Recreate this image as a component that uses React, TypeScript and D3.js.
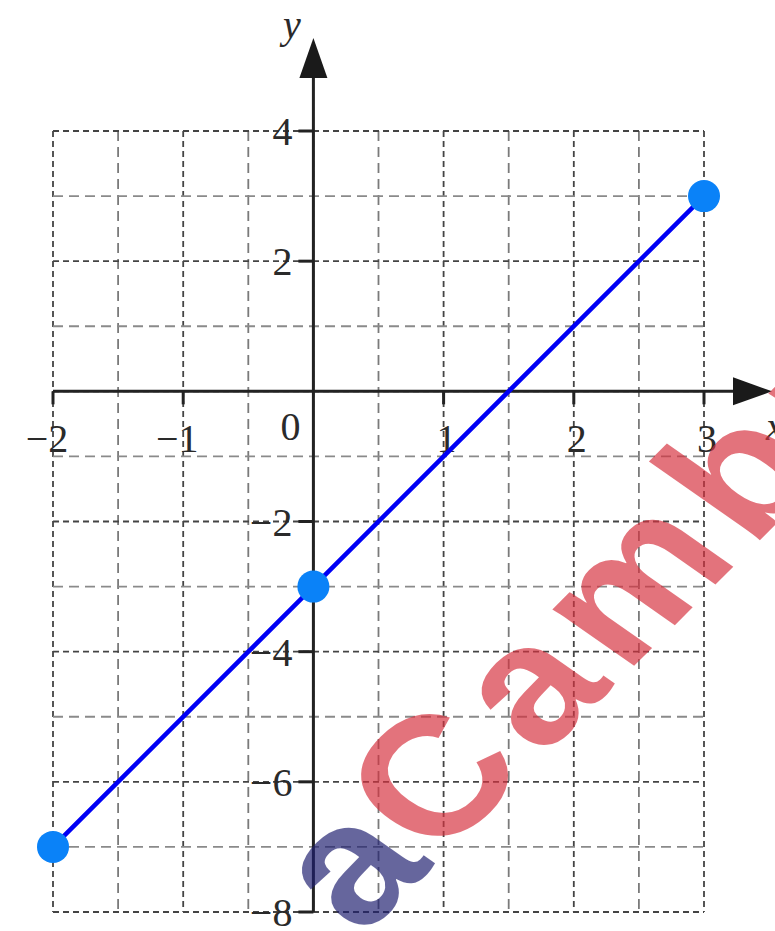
import React from "react";
import * as d3 from "d3";

// Endpoints and the y-intercept of y = 2x − 3
const pointXs = [-2, 0, 3];
const pointYs = [-7, -3, 3];

// Axis ticks and their labels
const xTickValues = [-2, -1, 1, 2, 3];
const xTickLabels = ["−2", "−1", "1", "2", "3"];
const yTickValues = [4, 2, -2, -4, -6, -8];
const yTickLabels = ["4", "2", "−2", "−4", "−6", "−8"];

// Grid extents
const xDomain = [-2, 3];
const yDomain = [-8, 4];

const W = 775;
const H = 931;

export default function App() {
  const x = d3.scaleLinear().domain(xDomain).range([53, 704]);
  const y = d3.scaleLinear().domain(yDomain).range([912, 131]);

  const x0 = x(0);
  const y0 = y(0);

  const vLines = d3.range(xDomain[0], xDomain[1] + 0.001, 0.5);
  const hLines = d3.range(yDomain[0], yDomain[1] + 0.001, 1);

  const line = d3
    .line<number>()
    .x((_, i) => x(pointXs[i]))
    .y((d) => y(d));

  const serif = "'Liberation Serif', 'Times New Roman', serif";

  const isMajorX = (v: number) => Number.isInteger(v);
  const isMajorY = (v: number) => v % 2 === 0;

  return (
    <svg
      width={W}
      height={H}
      viewBox={`0 0 ${W} ${H}`}
      style={{ position: "absolute", left: 0, top: 0, display: "block", background: "#fff" }}
    >
      {/* dashed grid */}
      <g fill="none">
        {vLines.map((v) => (
          <line
            key={`v${v}`}
            x1={x(v)}
            x2={x(v)}
            y1={y(yDomain[1])}
            y2={y(yDomain[0])}
            stroke={isMajorX(v) ? "#444" : "#7a7a7a"}
            strokeWidth={1.8}
            strokeDasharray={isMajorX(v) ? "6 4" : "10 6"}
          />
        ))}
        {hLines.map((v) => (
          <line
            key={`h${v}`}
            x1={x(xDomain[0])}
            x2={x(xDomain[1])}
            y1={y(v)}
            y2={y(v)}
            stroke={isMajorY(v) ? "#444" : "#8a8a8a"}
            strokeWidth={1.8}
            strokeDasharray={isMajorY(v) ? "6 4" : "10 6"}
          />
        ))}
      </g>

      {/* axes */}
      <g stroke="#222" strokeWidth={3}>
        <line x1={x(xDomain[0])} x2={733} y1={y0} y2={y0} />
        <line x1={x0} x2={x0} y1={y(yDomain[0])} y2={78} />
        {xTickValues.map((v) => (
          <line key={`xt${v}`} x1={x(v)} x2={x(v)} y1={y0} y2={y0 + 13} />
        ))}
        {yTickValues.map((v) => (
          <line key={`yt${v}`} x1={x0 - 15} x2={x0} y1={y(v)} y2={y(v)} />
        ))}
      </g>
      <polygon points={`${x0},38 ${x0 - 14},78 ${x0 + 14},78`} fill="#1a1a1a" />
      <polygon points={`772,${y0} 733,${y0 - 14} 733,${y0 + 14}`} fill="#1a1a1a" />

      {/* tick labels */}
      <g fontFamily={serif} fontSize={40} fill="#2a2a2a">
        {xTickValues.map((v, i) => (
          <text key={`xl${v}`} x={x(v) + (v < 0 ? -6 : 3)} y={452} textAnchor="middle">
            {xTickLabels[i]}
          </text>
        ))}
        <text x={x0 - 23} y={440} textAnchor="middle">
          0
        </text>
        {yTickValues.map((v, i) => (
          <text key={`yl${v}`} x={x0 - 21} y={y(v) + 14} textAnchor="end">
            {yTickLabels[i]}
          </text>
        ))}
        <text x={292} y={38} textAnchor="middle" fontStyle="italic">
          y
        </text>
        <text x={766} y={440} fontStyle="italic">
          x
        </text>
      </g>

      {/* the segment and its points */}
      <path d={line(pointYs) ?? ""} fill="none" stroke="#0000f5" strokeWidth={4.5} />
      {pointYs.map((v, i) => (
        <circle key={`p${i}`} cx={x(pointXs[i])} cy={y(v)} r={16} fill="#0a82f8" />
      ))}

      {/* watermark */}
      <g
        transform="translate(438,862) rotate(-45) skewX(10)"
        fontFamily="'Liberation Sans', Arial, sans-serif"
        fontWeight={700}
        fontSize={185}
      >
        <text x={0} y={0} fill="rgba(213,48,62,0.68)" letterSpacing={14}>
          Cambridge
        </text>
        <text x={-4} y={0} textAnchor="end" fill="rgba(30,30,110,0.68)">
          a
        </text>
      </g>
    </svg>
  );
}
